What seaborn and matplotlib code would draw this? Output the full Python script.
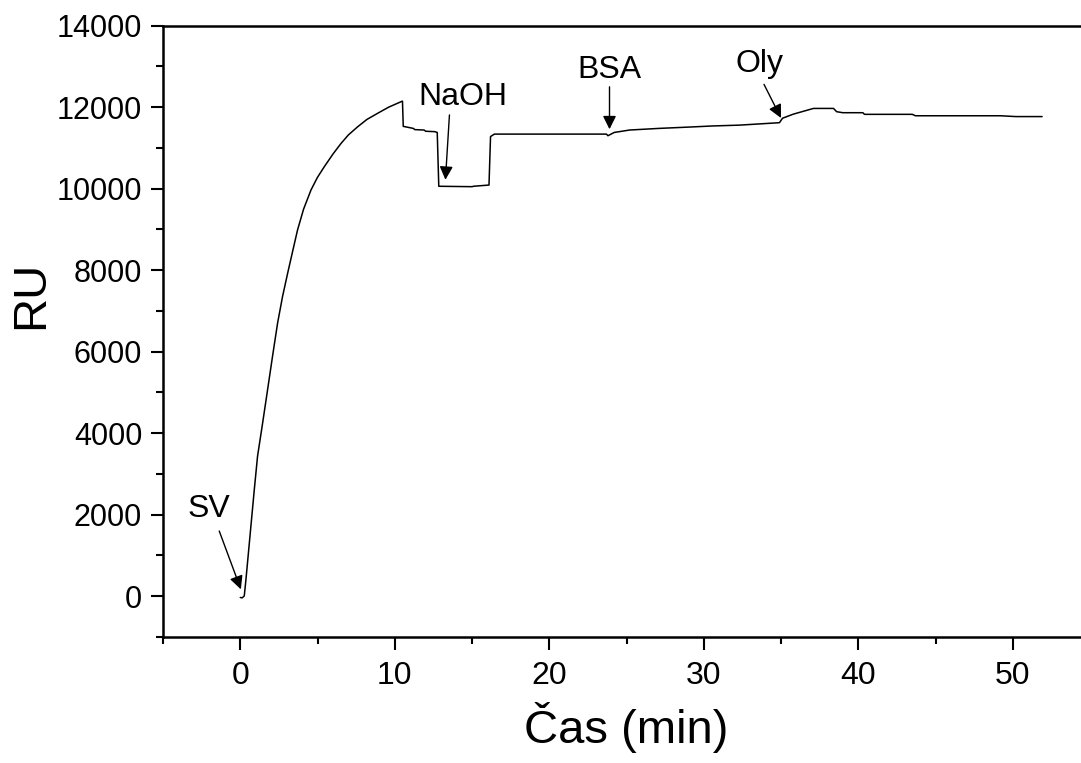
import numpy as np
import pandas as pd
import matplotlib
matplotlib.use("Agg")
import matplotlib.pyplot as plt
from matplotlib.ticker import MultipleLocator
import seaborn as sns

# ---- data ----
time_min = [0.0, 0.12, 0.26, 0.37, 0.91, 1.12, 1.45, 1.77, 2.09, 2.42, 2.74, 3.07,
            3.4, 3.71, 4.1, 4.58, 5.0, 5.44, 6.0, 6.52, 7.0, 7.6, 8.2, 8.89, 9.6,
            10.5, 10.55, 11.2, 11.3, 11.9, 12.0,
            12.6, 12.75, 12.85, 15.0, 15.1, 16.1, 16.2, 16.45, 23.7, 23.8, 24.2,
            25.2, 27.1, 28.9, 30.6, 32.3, 34.9, 35.1, 35.8, 37.1, 38.4, 38.6, 39.0,
            40.3, 40.4, 43.5, 43.7, 49.2, 50.2, 51.9]
ru = [-30, -40, 7, 416, 2620, 3437, 4255, 5070, 5890, 6710, 7360, 7930,
      8480, 8990, 9500, 9970, 10280, 10540, 10850, 11110, 11320, 11520, 11700, 11850, 12000,
      12150, 11530, 11480, 11450, 11440, 11410,
      11400, 11380, 10060, 10050, 10060, 10090, 11280, 11340, 11340, 11300, 11380,
      11440, 11480, 11510, 11540, 11560, 11620, 11730, 11830, 11970, 11970, 11890, 11865,
      11865, 11825, 11825, 11790, 11790, 11770, 11770]

labels = ["SV", "NaOH", "BSA", "Oly"]
label_pos = [(-2.0, 1935), (14.44, 12054), (23.87, 12716), (33.6, 12870)]
arrow_tail = [(-1.36, 1600), (13.54, 11810), (23.9, 12500), (33.9, 12560)]
arrow_tip = [(0.04, 170), (13.28, 10220), (23.9, 11460), (35.0, 11735)]

x_ticks = [0, 10, 20, 30, 40, 50]
y_ticks = [0, 2000, 4000, 6000, 8000, 10000, 12000, 14000]

df = pd.DataFrame({"t": time_min, "RU": ru})

sns.set_style("ticks")
plt.rcParams["font.family"] = ["Liberation Sans", "DejaVu Sans"]
plt.rcParams["text.color"] = "black"
plt.rcParams["axes.labelcolor"] = "black"

fig = plt.figure(figsize=(10.81, 7.63), dpi=100)
ax = fig.add_axes([163 / 1081, 1 - 637 / 763, (1090 - 163) / 1081, (637 - 25.7) / 763])

sns.lineplot(data=df, x="t", y="RU", ax=ax, color="black", linewidth=1.1,
             sort=False, estimator=None)

ax.set_xlim(-5, 55)
ax.set_ylim(-1000, 14000)
ax.set_xticks(x_ticks)
ax.set_yticks(y_ticks)
ax.xaxis.set_minor_locator(MultipleLocator(5))
ax.yaxis.set_minor_locator(MultipleLocator(1000))

for s in ax.spines.values():
    s.set_linewidth(1.8)
    s.set_color("black")
ax.tick_params(which="major", direction="out", length=9, width=1.5, colors="black")
ax.tick_params(which="minor", direction="out", length=5, width=1.5, colors="black")
ax.tick_params(axis="y", labelsize=22, pad=6)
ax.tick_params(axis="x", labelsize=23, pad=8)

ax.set_xlabel("Čas (min)", fontsize=34, labelpad=8, color="black")
ax.set_ylabel("RU", fontsize=34, labelpad=6, color="black")
ax.yaxis.set_label_coords(-0.119, 0.56)

for lab, (lx, ly), tail, tip in zip(labels, label_pos, arrow_tail, arrow_tip):
    ax.text(lx, ly, lab, fontsize=23, ha="center", va="baseline", color="black")
    ax.annotate("", xy=tip, xytext=tail,
                arrowprops=dict(arrowstyle="-|>", color="black", lw=1.0,
                                mutation_scale=20, shrinkA=0, shrinkB=0))

fig.savefig("out.png", dpi=100)
